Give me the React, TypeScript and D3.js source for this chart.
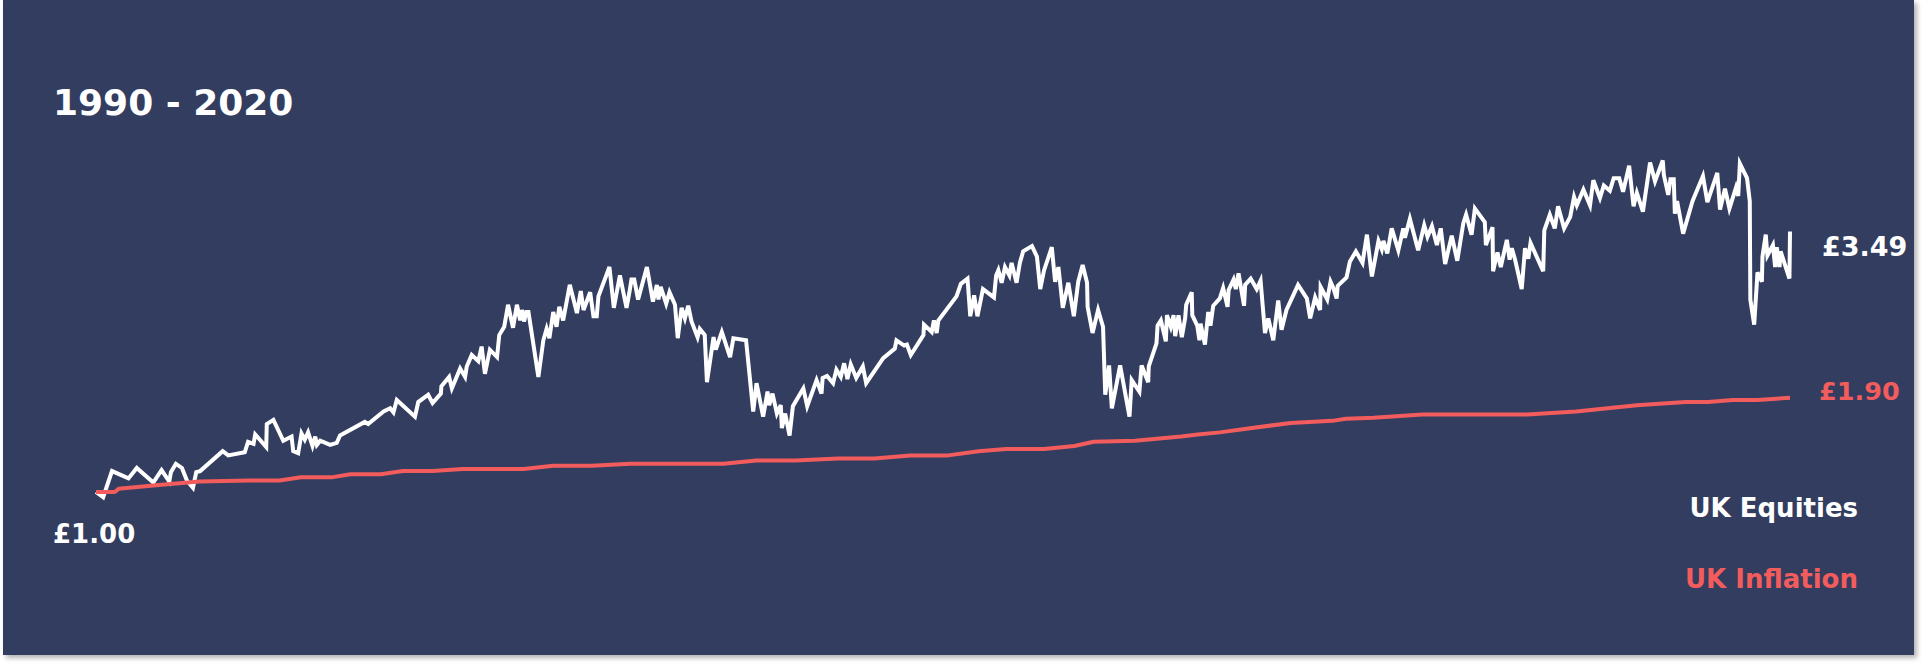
import React from 'react';
import * as d3 from 'd3';

// [decimal year, value of £1 invested in Jan 1990]
const ukEquities: [number, number][] = [
  [1990.0, 1.0], [1990.13, 0.95], [1990.29, 1.2], [1990.59, 1.13], [1990.74, 1.23],
  [1991.04, 1.09], [1991.19, 1.21], [1991.33, 1.1], [1991.36, 1.19], [1991.45, 1.27],
  [1991.56, 1.23], [1991.65, 1.11], [1991.76, 1.04], [1991.82, 1.19], [1991.89, 1.2],
  [1992.3, 1.39], [1992.4, 1.35], [1992.7, 1.38], [1992.76, 1.48], [1992.86, 1.46],
  [1992.89, 1.55], [1993.09, 1.43], [1993.1, 1.65], [1993.22, 1.69], [1993.4, 1.49],
  [1993.55, 1.53], [1993.58, 1.39], [1993.67, 1.37], [1993.73, 1.56], [1993.79, 1.5],
  [1993.85, 1.57], [1993.93, 1.44], [1993.98, 1.53], [1994.01, 1.45], [1994.07, 1.49],
  [1994.25, 1.45], [1994.37, 1.47], [1994.43, 1.54], [1994.88, 1.67], [1994.94, 1.65],
  [1995.22, 1.77], [1995.34, 1.8], [1995.4, 1.76], [1995.46, 1.88], [1995.79, 1.72],
  [1995.85, 1.86], [1996.03, 1.93], [1996.11, 1.85], [1996.26, 1.94], [1996.27, 2.01],
  [1996.41, 2.1], [1996.46, 1.99], [1996.61, 2.18], [1996.7, 2.1], [1996.73, 2.2],
  [1996.82, 2.31], [1996.94, 2.25], [1997.0, 2.39], [1997.06, 2.13], [1997.15, 2.36],
  [1997.28, 2.29], [1997.32, 2.5], [1997.41, 2.58], [1997.48, 2.79], [1997.57, 2.57],
  [1997.64, 2.79], [1997.7, 2.64], [1997.73, 2.74], [1997.77, 2.63], [1997.81, 2.72],
  [1997.85, 2.72], [1998.03, 2.1], [1998.12, 2.45], [1998.18, 2.56], [1998.23, 2.47],
  [1998.3, 2.72], [1998.36, 2.58], [1998.41, 2.77], [1998.48, 2.64], [1998.6, 2.98],
  [1998.73, 2.71], [1998.8, 2.92], [1998.85, 2.74], [1998.97, 2.91], [1999.03, 2.68],
  [1999.09, 2.68], [1999.12, 2.87], [1999.32, 3.15], [1999.4, 2.76], [1999.51, 3.07],
  [1999.63, 2.76], [1999.68, 2.9], [1999.72, 3.03], [1999.77, 3.03], [1999.84, 2.84],
  [2000.0, 3.15], [2000.11, 2.82], [2000.18, 2.98], [2000.21, 2.84], [2000.25, 2.96],
  [2000.35, 2.8], [2000.41, 2.91], [2000.51, 2.79], [2000.56, 2.47], [2000.63, 2.76],
  [2000.69, 2.66], [2000.75, 2.78], [2000.81, 2.63], [2000.92, 2.48], [2000.96, 2.56],
  [2001.05, 2.5], [2001.09, 2.05], [2001.21, 2.48], [2001.25, 2.36], [2001.36, 2.53],
  [2001.51, 2.29], [2001.57, 2.47], [2001.8, 2.45], [2001.93, 1.77], [2001.99, 2.04],
  [2002.11, 1.72], [2002.19, 1.96], [2002.22, 1.83], [2002.28, 1.94], [2002.36, 1.75],
  [2002.43, 1.83], [2002.45, 1.61], [2002.51, 1.75], [2002.59, 1.54], [2002.65, 1.82],
  [2002.84, 1.99], [2002.91, 1.82], [2003.08, 2.07], [2003.17, 1.94], [2003.19, 2.09],
  [2003.27, 2.11], [2003.38, 2.04], [2003.44, 2.17], [2003.52, 2.1], [2003.58, 2.23],
  [2003.64, 2.08], [2003.7, 2.22], [2003.8, 2.09], [2003.92, 2.2], [2003.98, 2.04],
  [2004.29, 2.28], [2004.5, 2.37], [2004.53, 2.45], [2004.67, 2.4], [2004.72, 2.41],
  [2004.79, 2.31], [2005.02, 2.5], [2005.03, 2.6], [2005.17, 2.53], [2005.21, 2.64],
  [2005.26, 2.52], [2005.29, 2.64], [2005.62, 2.87], [2005.7, 2.99], [2005.82, 3.04],
  [2005.87, 2.68], [2005.94, 2.88], [2006.0, 2.68], [2006.1, 2.94], [2006.3, 2.86],
  [2006.34, 3.07], [2006.38, 3.12], [2006.44, 3.0], [2006.5, 3.15], [2006.58, 3.07],
  [2006.62, 3.19], [2006.71, 3.0], [2006.77, 3.19], [2006.83, 3.3], [2006.99, 3.35],
  [2007.08, 3.25], [2007.14, 2.94], [2007.21, 3.12], [2007.35, 3.34], [2007.41, 3.01],
  [2007.47, 3.15], [2007.55, 2.76], [2007.65, 3.0], [2007.75, 2.68], [2007.83, 3.01],
  [2007.91, 3.17], [2007.99, 3.0], [2008.0, 2.77], [2008.09, 2.52], [2008.19, 2.74],
  [2008.28, 2.58], [2008.32, 1.93], [2008.39, 2.21], [2008.44, 1.8], [2008.59, 2.21],
  [2008.76, 1.72], [2008.8, 2.07], [2008.94, 1.96], [2008.98, 2.21], [2009.1, 2.05],
  [2009.11, 2.2], [2009.25, 2.42], [2009.27, 2.59], [2009.33, 2.64], [2009.42, 2.44],
  [2009.44, 2.69], [2009.51, 2.58], [2009.56, 2.69], [2009.59, 2.49], [2009.65, 2.69],
  [2009.71, 2.48], [2009.77, 2.66], [2009.79, 2.79], [2009.89, 2.91], [2009.9, 2.69],
  [2009.99, 2.59], [2010.03, 2.45], [2010.05, 2.61], [2010.13, 2.41], [2010.19, 2.72],
  [2010.23, 2.59], [2010.28, 2.78], [2010.4, 2.85], [2010.46, 2.95], [2010.54, 2.77],
  [2010.56, 2.93], [2010.65, 3.03], [2010.69, 2.94], [2010.74, 3.09], [2010.84, 2.78],
  [2010.86, 2.98], [2010.96, 3.04], [2011.07, 2.94], [2011.14, 3.02], [2011.22, 2.52],
  [2011.28, 2.66], [2011.37, 2.45], [2011.46, 2.83], [2011.52, 2.55], [2011.61, 2.74],
  [2011.82, 2.98], [2011.98, 2.85], [2012.04, 2.66], [2012.13, 2.86], [2012.22, 2.74],
  [2012.23, 2.96], [2012.35, 2.84], [2012.41, 3.01], [2012.46, 2.95], [2012.52, 2.85],
  [2012.54, 2.97], [2012.7, 3.05], [2012.76, 3.2], [2012.87, 3.3], [2012.99, 3.19],
  [2013.07, 3.46], [2013.16, 3.06], [2013.28, 3.4], [2013.34, 3.32], [2013.37, 3.4],
  [2013.44, 3.28], [2013.52, 3.52], [2013.64, 3.31], [2013.73, 3.52], [2013.76, 3.43],
  [2013.85, 3.61], [2014.0, 3.31], [2014.11, 3.55], [2014.17, 3.44], [2014.25, 3.54],
  [2014.34, 3.36], [2014.41, 3.52], [2014.49, 3.18], [2014.61, 3.45], [2014.71, 3.21],
  [2014.82, 3.57], [2014.87, 3.65], [2014.97, 3.46], [2015.03, 3.71], [2015.21, 3.58],
  [2015.23, 3.36], [2015.35, 3.53], [2015.36, 3.11], [2015.44, 3.29], [2015.5, 3.15],
  [2015.61, 3.41], [2015.66, 3.22], [2015.7, 3.33], [2015.76, 3.22], [2015.88, 2.94],
  [2015.94, 3.33], [2016.0, 3.23], [2016.04, 3.38], [2016.27, 3.11], [2016.29, 3.5],
  [2016.39, 3.65], [2016.48, 3.52], [2016.54, 3.73], [2016.65, 3.52], [2016.76, 3.63],
  [2016.83, 3.82], [2016.88, 3.74], [2017.0, 3.89], [2017.12, 3.74], [2017.18, 3.98],
  [2017.3, 3.81], [2017.37, 3.93], [2017.48, 3.88], [2017.55, 4.0], [2017.65, 4.0],
  [2017.72, 3.87], [2017.83, 4.12], [2017.91, 3.73], [2017.97, 3.86], [2018.08, 3.68],
  [2018.21, 4.15], [2018.3, 3.97], [2018.44, 4.17], [2018.46, 4.03], [2018.54, 3.84],
  [2018.58, 3.99], [2018.64, 3.99], [2018.66, 3.66], [2018.7, 3.78], [2018.81, 3.47],
  [2018.98, 3.78], [2019.17, 4.02], [2019.25, 3.77], [2019.43, 4.05], [2019.48, 3.7],
  [2019.57, 3.9], [2019.65, 3.71], [2019.77, 3.91], [2019.81, 3.83], [2019.84, 4.14],
  [2019.97, 4.0], [2020.02, 3.78], [2020.03, 2.84], [2020.1, 2.6], [2020.16, 3.1],
  [2020.24, 3.01], [2020.25, 3.25], [2020.31, 3.46], [2020.34, 3.26], [2020.44, 3.36],
  [2020.48, 3.15], [2020.51, 3.34], [2020.56, 3.15], [2020.58, 3.3], [2020.74, 3.04],
  [2020.75, 3.49],
];

const ukInflation: [number, number][] = [
  [1990.0, 1.0], [1990.34, 1.0], [1990.41, 1.03], [1991.19, 1.07], [1991.88, 1.1],
  [1992.78, 1.11], [1993.33, 1.11], [1993.72, 1.14], [1994.27, 1.14], [1994.62, 1.17],
  [1995.17, 1.17], [1995.57, 1.2], [1996.11, 1.2], [1996.66, 1.22], [1997.76, 1.22],
  [1998.3, 1.25], [1999.0, 1.25], [1999.7, 1.27], [2001.39, 1.27], [2001.99, 1.3],
  [2002.69, 1.3], [2003.48, 1.32], [2004.13, 1.32], [2004.78, 1.35], [2005.47, 1.35],
  [2006.02, 1.39], [2006.52, 1.41], [2007.21, 1.41], [2007.76, 1.44], [2008.11, 1.48],
  [2008.86, 1.49], [2009.7, 1.53], [2010.0, 1.55], [2010.4, 1.57], [2010.95, 1.61],
  [2011.69, 1.66], [2012.44, 1.68], [2012.69, 1.7], [2013.19, 1.71], [2014.08, 1.74],
  [2015.98, 1.74], [2016.87, 1.77], [2017.97, 1.83], [2018.86, 1.86], [2019.26, 1.86],
  [2019.71, 1.88], [2020.16, 1.88], [2020.75, 1.9],
];

const periodTitle = '1990 - 2020';
const seriesNames = ['UK Equities', 'UK Inflation'];
const startValue = 1.0;

const W = 1928;
const H = 664;
const BG = '#323d5e';
const RED = '#f25c5c';
const FONT = '"DejaVu Sans", Inter, sans-serif';

const App: React.FC = () => {
  const x = d3.scaleLinear().domain([1990, 2020.75]).range([96, 1790]);
  const y = d3.scaleLinear().domain([1, 3.49]).range([492, 231.5]);

  const line = d3
    .line<[number, number]>()
    .x(d => x(d[0]))
    .y(d => y(d[1]));

  const money = (v: number) => `£${d3.format('.2f')(v)}`;
  const lastEq = ukEquities[ukEquities.length - 1];
  const lastInf = ukInflation[ukInflation.length - 1];

  return (
    <div style={{ position: 'absolute', left: 0, top: 0, width: W, height: H, background: '#fff' }}>
      <svg width={W} height={H} style={{ display: 'block' }}>
        <defs>
          <filter id="shadow" x="-2%" y="-2%" width="104%" height="106%">
            <feDropShadow dx="3" dy="3" stdDeviation="2.5" floodColor="#000" floodOpacity="0.3" />
          </filter>
        </defs>
        <rect x={3} y={0} width={1911} height={655} fill={BG} filter="url(#shadow)" />

        <text x={53} y={115} fill="#fff" fontFamily={FONT} fontWeight={700} fontSize={36}>
          {periodTitle}
        </text>

        <path d={line(ukEquities) ?? ''} fill="none" stroke="#fff" strokeWidth={4} strokeLinejoin="miter" />
        <path d={line(ukInflation) ?? ''} fill="none" stroke={RED} strokeWidth={4} strokeLinejoin="round" />

        <text x={53} y={y(startValue) + 51} fill="#fff" fontFamily={FONT} fontWeight={700} fontSize={26}>
          {money(startValue)}
        </text>
        <text x={x(lastEq[0]) + 32} y={y(lastEq[1]) + 24} fill="#fff" fontFamily={FONT} fontWeight={700} fontSize={27}>
          {money(lastEq[1])}
        </text>
        <text x={x(lastInf[0]) + 29} y={y(lastInf[1]) + 2} fill={RED} fontFamily={FONT} fontWeight={700} fontSize={25.5}>
          {money(lastInf[1])}
        </text>

        <text x={1858} y={517} textAnchor="end" fill="#fff" fontFamily={FONT} fontWeight={700} fontSize={26}>
          {seriesNames[0]}
        </text>
        <text x={1858} y={588} textAnchor="end" fill={RED} fontFamily={FONT} fontWeight={700} fontSize={26}>
          {seriesNames[1]}
        </text>
      </svg>
    </div>
  );
};

export default App;
